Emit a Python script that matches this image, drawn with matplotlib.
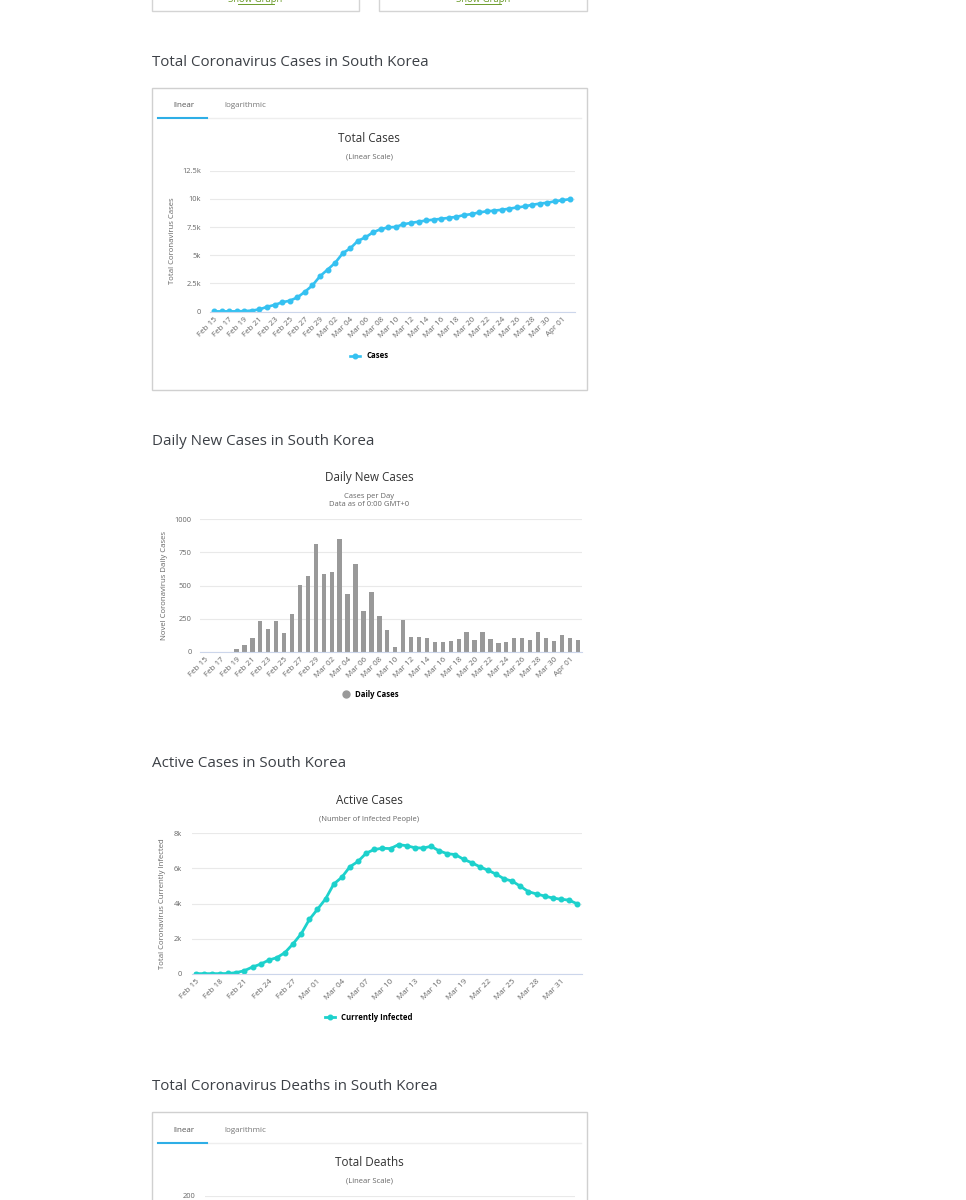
import matplotlib.pyplot as plt
from matplotlib.patches import Rectangle
from matplotlib.lines import Line2D

W, H = 966, 1200
plt.rcParams['font.family'] = ['Open Sans', 'DejaVu Sans']

# --- data ---
dates = ['Feb 15', 'Feb 16', 'Feb 17', 'Feb 18', 'Feb 19', 'Feb 20', 'Feb 21', 'Feb 22',
         'Feb 23', 'Feb 24', 'Feb 25', 'Feb 26', 'Feb 27', 'Feb 28', 'Feb 29', 'Mar 01',
         'Mar 02', 'Mar 03', 'Mar 04', 'Mar 05', 'Mar 06', 'Mar 07', 'Mar 08', 'Mar 09',
         'Mar 10', 'Mar 11', 'Mar 12', 'Mar 13', 'Mar 14', 'Mar 15', 'Mar 16', 'Mar 17',
         'Mar 18', 'Mar 19', 'Mar 20', 'Mar 21', 'Mar 22', 'Mar 23', 'Mar 24', 'Mar 25',
         'Mar 26', 'Mar 27', 'Mar 28', 'Mar 29', 'Mar 30', 'Mar 31', 'Apr 01', 'Apr 02']

total_cases = [28, 29, 30, 31, 51, 104, 204, 433, 602, 833, 977, 1261, 1766, 2337, 3150, 3736,
               4335, 5186, 5621, 6284, 6593, 7041, 7313, 7478, 7513, 7755, 7869, 7979, 8086, 8162,
               8236, 8320, 8413, 8565, 8652, 8799, 8897, 8961, 9037, 9137, 9241, 9332, 9478, 9583,
               9661, 9786, 9887, 9976]

daily_cases = [0, 1, 1, 1, 20, 53, 100, 229, 169, 231, 144, 284, 505, 571, 813, 586,
               599, 851, 435, 663, 309, 448, 272, 165, 35, 242, 114, 110, 107, 76,
               74, 84, 93, 152, 87, 147, 98, 64, 76, 100, 104, 91, 146, 105,
               78, 125, 101, 89]

active_cases = [20, 20, 20, 20, 30, 80, 190, 400, 560, 790, 930, 1220, 1720, 2290, 3100, 3680,
                4270, 5110, 5500, 6100, 6400, 6870, 7080, 7150, 7130, 7360, 7290, 7180, 7160, 7260,
                7000, 6840, 6790, 6520, 6330, 6100, 5900, 5680, 5410, 5280, 4990, 4680, 4550, 4430,
                4320, 4250, 4200, 3990]

HEAD = '#3c4046'
GRID = '#e9e9e9'
AXIS = '#ccd6eb'
LBL = '#666666'

fig = plt.figure(figsize=(W / 100, H / 100), dpi=100)

# background layer in pixel coords (y down)
bg = fig.add_axes([0, 0, 1, 1])
bg.set_xlim(0, W)
bg.set_ylim(H, 0)
bg.axis('off')


def px_axes(l, t, r, b):
    return fig.add_axes([l / W, 1 - b / H, (r - l) / W, (b - t) / H])


def style(ax, yticks, ylabels, xticks, ypad):
    ax.set_facecolor('none')
    for s in ['top', 'right', 'left']:
        ax.spines[s].set_visible(False)
    ax.spines['bottom'].set_color(AXIS)
    ax.spines['bottom'].set_linewidth(0.8)
    ax.set_yticks(yticks)
    ax.set_yticklabels(ylabels)
    ax.grid(axis='y', color=GRID, linewidth=0.8)
    ax.set_axisbelow(True)
    ax.tick_params(axis='y', length=0, labelsize=5.4, labelcolor=LBL, pad=ypad)
    ax.tick_params(axis='x', length=0, pad=3)
    ax.set_xticks(xticks)
    ax.set_xticklabels([dates[i] for i in xticks], rotation=45, ha='right',
                       rotation_mode='anchor', fontsize=5.8, color=LBL)


def heading(y, s):
    bg.text(151.7, y + 2, s, fontsize=10.9, color=HEAD, va='center', ha='left')


def titles(y1, s1, subs):
    bg.text(369.3, y1 + 1, s1, fontsize=8.4, color='#333333', ha='center', va='center')
    for y, s in subs:
        bg.text(369.3, y + 0.5, s, fontsize=5.5, color=LBL, ha='center', va='center')


def tabs(top, y_txt, y_line):
    bg.add_patch(Rectangle((151.7, top), 435.6, 302.3, fill=False, ec='#d0d0d0', lw=1))
    bg.text(184, y_txt + 0.5, 'linear', fontsize=5.8, color='#555555', ha='center', va='center')
    bg.text(245.3, y_txt + 0.5, 'logarithmic', fontsize=5.8, color='#777777', ha='center',
            va='center')
    bg.plot([206.7, 580.7], [y_line, y_line], color='#eeeeee', lw=1)
    bg.plot([158.3, 206.7], [y_line, y_line], color='#2eaee6', lw=1.5)


# --- top cut-off boxes (the page is scrolled, so these are cut in the screenshot too) ---
for x0, x1 in [(151.7, 359.3), (379, 587.3)]:
    bg.add_patch(Rectangle((x0, -10), x1 - x0, 21, fill=False, ec='#d4d4d4', lw=1))
    cx = (x0 + x1) / 2
    bg.text(cx, 2, 'Show Graph', fontsize=6.8, color='#6b9b2a', ha='center', va='baseline')
    bg.plot([cx - 18, cx + 18], [4, 4], color='#6b9b2a', lw=0.7)

# --- total cases ---
heading(61, 'Total Coronavirus Cases in South Korea')
tabs(87.7, 105.3, 118)
titles(137.3, 'Total Cases', [(156, '(Linear Scale)')])
ax1 = px_axes(210, 170.7, 575, 311.7)
line1, = ax1.plot(range(len(total_cases)), total_cases, color='#35c1f1', lw=1.9,
                  marker='o', markersize=3.3)
ax1.set_xlim(-0.53, 47.66)
ax1.set_ylim(0, 12500)
style(ax1, [0, 2500, 5000, 7500, 10000, 12500], ['0', '2.5k', '5k', '7.5k', '10k', '12.5k'],
      list(range(0, 48, 2)), 6.5)
bg.text(172, 241, 'Total Coronavirus Cases', rotation=90, fontsize=5.6, color=LBL,
        ha='center', va='center')
ax1.legend([line1], ['Cases'], loc='center', bbox_to_anchor=(369 / W, 1 - 356 / H),
           bbox_transform=fig.transFigure, frameon=False, handlelength=1.3,
           prop={'size': 5.6, 'weight': 'bold'})

# --- daily new cases ---
heading(439.3, 'Daily New Cases in South Korea')
titles(476.7, 'Daily New Cases', [(496, 'Cases per Day'), (504.3, 'Data as of 0:00 GMT+0')])
ax2 = px_axes(200, 519.3, 581.7, 651.7)
ax2.bar(range(len(daily_cases)), daily_cases, width=0.55, color='#999999')
ax2.set_xlim(-0.6, 47.5)
ax2.set_ylim(0, 1000)
style(ax2, [0, 250, 500, 750, 1000], ['0', '250', '500', '750', '1000'],
      list(range(0, 48, 2)), 6)
bg.text(164, 585, 'Novel Coronavirus Daily Cases', rotation=90, fontsize=5.6, color=LBL,
        ha='center', va='center')
h2 = Line2D([], [], ls='none', marker='o', color='#999999', markersize=5)
ax2.legend([h2], ['Daily Cases'], loc='center', bbox_to_anchor=(371 / W, 1 - 694.5 / H),
           bbox_transform=fig.transFigure, frameon=False, handlelength=0.8,
           prop={'size': 5.6, 'weight': 'bold'})

# --- active cases ---
heading(761.7, 'Active Cases in South Korea')
titles(799.3, 'Active Cases', [(818.7, '(Number of Infected People)')])
ax3 = px_axes(191.7, 833.3, 582, 974)
line3, = ax3.plot(range(len(active_cases)), active_cases, color='#1dd1cc', lw=2.0,
                  marker='o', markersize=3.3)
ax3.set_xlim(-0.5, 47.6)
ax3.set_ylim(0, 8000)
style(ax3, [0, 2000, 4000, 6000, 8000], ['0', '2k', '4k', '6k', '8k'],
      list(range(0, 48, 3)), 7)
bg.text(163, 904, 'Total Coronavirus Currently Infected', rotation=90, fontsize=5.6,
        color=LBL, ha='center', va='center')
ax3.legend([line3], ['Currently Infected'], loc='center', bbox_to_anchor=(369 / W, 1 - 1017.5 / H),
           bbox_transform=fig.transFigure, frameon=False, handlelength=1.3,
           prop={'size': 5.6, 'weight': 'bold'})

# --- total deaths (cut off at the bottom, only the top gridline shows) ---
heading(1085, 'Total Coronavirus Deaths in South Korea')
tabs(1111.7, 1130, 1142.7)
titles(1161.7, 'Total Deaths', [(1180, '(Linear Scale)')])
ax4 = px_axes(205, 1195.5, 575, 1337)
ax4.set_xlim(-0.5, 47.5)
ax4.set_ylim(0, 200)
style(ax4, [200], ['200'], [], 7)

fig.savefig('out.png', dpi=100)
